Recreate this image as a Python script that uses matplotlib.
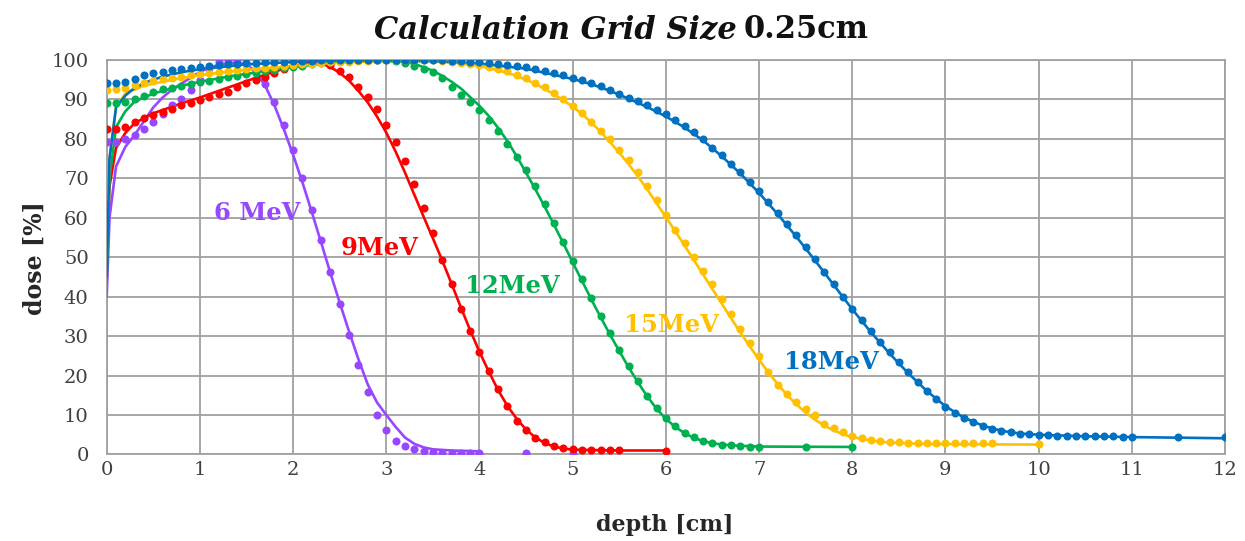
import matplotlib
matplotlib.use("Agg")
import matplotlib.pyplot as plt

# ---- measured depth-dose points (dots) ----
d6 = [0, 0.1, 0.2, 0.3, 0.4, 0.5, 0.6, 0.7, 0.8, 0.9, 1.0, 1.1, 1.2, 1.3, 1.4, 1.5, 1.6, 1.7,
      1.8, 1.9, 2.0, 2.1, 2.2, 2.3, 2.4, 2.5, 2.6, 2.7, 2.8, 2.9, 3.0, 3.1, 3.2, 3.3, 3.4, 3.5,
      3.6, 3.7, 3.8, 3.9, 4.0, 4.5, 5.0]
m6 = [79.2, 79.2, 80, 81, 82.6, 84.3, 86.4, 88.5, 90, 92.5, 95, 98, 99.5, 100, 100, 99.2, 97.5, 94,
      89.4, 83.5, 77.1, 70, 62, 54.4, 46.2, 38.2, 30.4, 22.6, 15.8, 9.9, 6.3, 3.4, 2.1, 1.3, 0.9, 0.6,
      0.4, 0.4, 0.4, 0.4, 0.4, 0.4, 0.3]

d9 = [0, 0.1, 0.2, 0.3, 0.4, 0.5, 0.6, 0.7, 0.8, 0.9, 1.0, 1.1, 1.2, 1.3, 1.4, 1.5, 1.6, 1.7,
      1.8, 1.9, 2.0, 2.1, 2.2, 2.3, 2.4, 2.5, 2.6, 2.7, 2.8, 2.9, 3.0, 3.1, 3.2, 3.3, 3.4, 3.5,
      3.6, 3.7, 3.8, 3.9, 4.0, 4.1, 4.2, 4.3, 4.4, 4.5, 4.6, 4.7, 4.8, 4.9, 5.0, 5.1, 5.2, 5.3,
      5.4, 5.5, 6.0]
m9 = [82.6, 82.6, 82.9, 84.3, 85.2, 86, 86.9, 87.5, 88.6, 89, 89.8, 90.7, 91.5, 92, 93.2, 94.1, 94.9, 95.8,
      96.8, 97.8, 98.6, 99.3, 99.8, 99.5, 98.7, 97.3, 95.7, 93.2, 90.7, 87.6, 83.5, 79.3, 74.5, 68.6, 62.5, 56.2,
      49.4, 43.3, 37, 31.2, 26.1, 21.1, 16.5, 12.3, 8.6, 6.3, 4.2, 3.1, 2.2, 1.6, 1.3, 1.1, 1.0, 1.0,
      1.0, 1.0, 0.9]

d12 = [0, 0.1, 0.2, 0.3, 0.4, 0.5, 0.6, 0.7, 0.8, 0.9, 1.0, 1.1, 1.2, 1.3, 1.4, 1.5, 1.6, 1.7,
       1.8, 1.9, 2.0, 2.1, 2.2, 2.3, 2.4, 2.5, 2.6, 2.7, 2.8, 2.9, 3.0, 3.1, 3.2, 3.3, 3.4, 3.5,
       3.6, 3.7, 3.8, 3.9, 4.0, 4.1, 4.2, 4.3, 4.4, 4.5, 4.6, 4.7, 4.8, 4.9, 5.0, 5.1, 5.2, 5.3,
       5.4, 5.5, 5.6, 5.7, 5.8, 5.9, 6.0, 6.1, 6.2, 6.3, 6.4, 6.5, 6.6, 6.7, 6.8, 6.9, 7.0, 7.5, 8.0]
m12 = [89, 89, 89.3, 90, 91, 92, 92.6, 93, 93.5, 94, 94.5, 94.8, 95.2, 95.6, 96, 96.4, 96.8, 97.2,
       97.6, 98, 98.3, 98.6, 99, 99.3, 99.6, 99.8, 100, 100, 100, 100, 100, 99.8, 99.3, 98.5, 97.8, 97,
       95.4, 93.2, 91.2, 89.3, 87.3, 84.8, 82, 78.8, 75.5, 72, 68, 63.4, 58.7, 53.8, 49, 44.4, 39.7, 35.1,
       30.8, 26.6, 22.4, 18.6, 14.8, 11.8, 9.3, 7.2, 5.5, 4.3, 3.5, 3.0, 2.5, 2.3, 2.1, 2.0, 1.9, 1.8, 1.8]

d15 = [0, 0.1, 0.2, 0.3, 0.4, 0.5, 0.6, 0.7, 0.8, 0.9, 1.0, 1.1, 1.2, 1.3, 1.4, 1.5, 1.6, 1.7,
       1.8, 1.9, 2.0, 2.1, 2.2, 2.3, 2.4, 2.5, 2.6, 2.7, 2.8, 2.9, 3.0, 3.1, 3.2, 3.3, 3.4, 3.5,
       3.6, 3.7, 3.8, 3.9, 4.0, 4.1, 4.2, 4.3, 4.4, 4.5, 4.6, 4.7, 4.8, 4.9, 5.0, 5.1, 5.2, 5.3,
       5.4, 5.5, 5.6, 5.7, 5.8, 5.9, 6.0, 6.1, 6.2, 6.3, 6.4, 6.5, 6.6, 6.7, 6.8, 6.9, 7.0, 7.1,
       7.2, 7.3, 7.4, 7.5, 7.6, 7.7, 7.8, 7.9, 8.0, 8.1, 8.2, 8.3, 8.4, 8.5, 8.6, 8.7, 8.8, 8.9,
       9.0, 9.1, 9.2, 9.3, 9.4, 9.5, 10.0]
m15 = [92.5, 92.6, 93, 93.6, 94.2, 94.7, 95.1, 95.5, 95.8, 96.1, 96.4, 96.7, 97, 97.3, 97.5, 97.7, 97.9, 98.1,
       98.3, 98.5, 98.7, 98.9, 99.1, 99.3, 99.4, 99.5, 99.6, 99.7, 99.8, 99.9, 100, 100, 100, 100, 100, 100,
       99.8, 99.6, 99.3, 99, 98.7, 98.2, 97.7, 97.1, 96.3, 95.4, 94.3, 93.2, 91.7, 90, 88.3, 86.5, 84.3, 82.1,
       79.9, 77.3, 74.6, 71.7, 68.1, 64.5, 60.7, 56.9, 53.5, 50, 46.5, 43.1, 39.3, 35.5, 31.7, 28.3, 24.9, 20.9,
       17.7, 15.4, 13.3, 11.5, 9.9, 7.8, 6.6, 5.7, 4.8, 4.2, 3.7, 3.4, 3.2, 3.1, 3.0, 3.0, 2.9, 2.9,
       2.9, 2.9, 2.9, 2.9, 2.9, 2.9, 2.6]

d18 = [0, 0.1, 0.2, 0.3, 0.4, 0.5, 0.6, 0.7, 0.8, 0.9, 1.0, 1.1, 1.2, 1.3, 1.4, 1.5, 1.6, 1.7,
       1.8, 1.9, 2.0, 2.1, 2.2, 2.3, 2.4, 2.5, 2.6, 2.7, 2.8, 2.9, 3.0, 3.1, 3.2, 3.3, 3.4, 3.5,
       3.6, 3.7, 3.8, 3.9, 4.0, 4.1, 4.2, 4.3, 4.4, 4.5, 4.6, 4.7, 4.8, 4.9, 5.0, 5.1, 5.2, 5.3,
       5.4, 5.5, 5.6, 5.7, 5.8, 5.9, 6.0, 6.1, 6.2, 6.3, 6.4, 6.5, 6.6, 6.7, 6.8, 6.9, 7.0, 7.1,
       7.2, 7.3, 7.4, 7.5, 7.6, 7.7, 7.8, 7.9, 8.0, 8.1, 8.2, 8.3, 8.4, 8.5, 8.6, 8.7, 8.8, 8.9,
       9.0, 9.1, 9.2, 9.3, 9.4, 9.5, 9.6, 9.7, 9.8, 9.9, 10.0, 10.1, 10.2, 10.3, 10.4, 10.5, 10.6, 10.7,
       10.8, 10.9, 11.0, 11.5, 12.0]
m18 = [94.2, 94.2, 94.5, 95.3, 96.1, 96.8, 97, 97.5, 97.7, 98.1, 98.3, 98.5, 98.7, 98.9, 99.1, 99.2, 99.3, 99.4,
       99.5, 99.6, 99.7, 99.8, 99.8, 99.9, 99.9, 100, 100, 100, 100, 100, 100, 100, 100, 100, 100, 100,
       99.9, 99.8, 99.7, 99.6, 99.4, 99.2, 99.0, 98.8, 98.5, 98.2, 97.8, 97.2, 96.7, 96.1, 95.5, 94.9, 94.2, 93.4,
       92.5, 91.5, 90.5, 89.6, 88.5, 87.4, 86.2, 84.8, 83.4, 81.8, 79.9, 77.8, 75.8, 73.7, 71.5, 69.2, 66.7, 64.0,
       61.2, 58.5, 55.6, 52.6, 49.5, 46.3, 43.1, 40.0, 36.8, 34.0, 31.3, 28.6, 26.0, 23.4, 20.9, 18.4, 16.2, 14.1,
       12.1, 10.5, 9.2, 8.1, 7.2, 6.5, 6.0, 5.6, 5.3, 5.1, 5.0, 4.9, 4.8, 4.8, 4.7, 4.7, 4.6, 4.6,
       4.6, 4.5, 4.5, 4.4, 4.3]

# ---- calculated depth-dose curves (lines) ----
c6_d = [0, 0.03, 0.1, 0.2, 0.3, 0.4, 0.5, 0.6, 0.7, 0.8, 0.9, 1.0, 1.1, 1.2, 1.3, 1.4, 1.5, 1.6,
        1.7, 1.8, 1.9, 2.0, 2.1, 2.2, 2.3, 2.4, 2.5, 2.6, 2.7, 2.8, 2.9, 3.0, 3.1, 3.2, 3.3, 3.4,
        3.5, 3.7, 4.0]
c6_v = [40, 60, 73, 78, 81, 84.5, 88, 90.5, 92.5, 94, 95.5, 97, 98, 98.8, 99.2, 99.3, 98.9, 97,
        93.5, 88.5, 82.5, 76, 69, 61.5, 53.8, 46, 38.5, 31.2, 24.2, 17.8, 13.2, 10, 7, 4.3, 2.7, 1.8,
        1.3, 1.0, 0.8]

c9_d = [0, 0.03, 0.1, 0.2, 0.3, 0.5, 0.8, 1.0, 1.3, 1.6, 1.9, 2.1, 2.3, 2.4, 2.5, 2.6, 2.7, 2.8,
        2.9, 3.0, 3.1, 3.2, 3.3, 3.4, 3.5, 3.6, 3.7, 3.8, 3.9, 4.0, 4.1, 4.2, 4.3, 4.4, 4.5, 4.6,
        4.7, 4.8, 4.9, 5.0, 5.5, 6.0]
c9_v = [50, 68, 77.7, 81.5, 84, 86.5, 89, 90.5, 93, 95.5, 97.8, 99, 99.2, 98.2, 96.8, 94.8, 92.2, 89.3,
        85.7, 81.6, 76.8, 71.5, 65.9, 60.3, 54.8, 49.2, 43.3, 37.3, 31.5, 26, 21, 16.3, 12.3, 9, 6.3, 4.3,
        2.9, 2.0, 1.5, 1.2, 1.0, 1.0]

c12_d = [0, 0.03, 0.1, 0.2, 0.3, 0.5, 0.8, 1.0, 1.35, 1.7, 2.0, 2.3, 2.6, 2.9, 3.2, 3.3, 3.4, 3.5,
         3.6, 3.7, 3.8, 3.9, 4.0, 4.1, 4.2, 4.3, 4.4, 4.5, 4.6, 4.7, 4.8, 4.9, 5.0, 5.1, 5.2, 5.3,
         5.4, 5.5, 5.6, 5.7, 5.8, 5.9, 6.0, 6.1, 6.2, 6.3, 6.4, 6.5, 6.7, 7.0, 8.0]
c12_v = [45, 70, 83, 87, 89.5, 91.5, 93.5, 94.5, 96, 97.2, 98.2, 99, 99.6, 99.8, 99.6, 99, 98.2, 97.3,
         96, 94.5, 92.8, 90.6, 88.4, 85.8, 82.8, 79.4, 75.6, 71.4, 67.2, 62.8, 58.2, 53.5, 48.7, 44, 39.3, 34.8,
         30.4, 26.2, 22.1, 18.3, 14.7, 11.6, 9.0, 7.0, 5.4, 4.2, 3.4, 2.8, 2.3, 2.0, 1.9]

c15_d = [0, 0.03, 0.1, 0.2, 0.4, 0.7, 1.0, 1.5, 2.0, 2.5, 3.0, 3.5, 3.8, 4.0, 4.2, 4.4, 4.6, 4.8,
         5.0, 5.1, 5.2, 5.3, 5.4, 5.5, 5.6, 5.7, 5.8, 5.9, 6.0, 6.1, 6.2, 6.3, 6.4, 6.5, 6.6, 6.7,
         6.8, 6.9, 7.0, 7.1, 7.2, 7.3, 7.4, 7.5, 7.6, 7.7, 7.8, 7.9, 8.0, 8.2, 8.4, 8.7, 9.0, 10.0]
c15_v = [50, 75, 88, 91.5, 93.5, 95, 96.2, 97.5, 98.5, 99.3, 99.8, 99.8, 99.2, 98.5, 97.4, 96, 94, 91.3,
         88.2, 86.3, 84.2, 81.8, 79.2, 76.5, 73.6, 70.5, 67.2, 63.7, 60.2, 56.6, 53, 49.3, 45.6, 41.9, 38.2, 34.5,
         30.9, 27.4, 24, 20.8, 17.8, 15.1, 12.7, 10.6, 8.8, 7.3, 6.1, 5.1, 4.4, 3.5, 3.0, 2.7, 2.6, 2.5]

c18_d = [0, 0.03, 0.1, 0.2, 0.27, 0.4, 0.6, 0.8, 1.0, 1.5, 2.0, 2.5, 3.0, 3.5, 4.0, 4.5, 5.0, 5.2,
         5.4, 5.6, 5.8, 6.0, 6.2, 6.4, 6.6, 6.8, 7.0, 7.2, 7.4, 7.6, 7.8, 8.0, 8.2, 8.4, 8.6, 8.8,
         9.0, 9.2, 9.4, 9.6, 9.8, 10.0, 10.5, 11.0, 12.0]
c18_v = [45, 75, 88, 91, 92.4, 94.2, 95.8, 96.9, 97.7, 98.9, 99.5, 99.8, 99.9, 99.7, 99.1, 97.8, 95.2, 93.9,
         92.2, 90.2, 88.1, 85.7, 82.9, 79.6, 75.6, 71.2, 66.3, 60.9, 55.2, 49.2, 43, 36.8, 31, 25.6, 20.6, 16.1,
         12.2, 9.3, 7.3, 6.0, 5.3, 5.0, 4.6, 4.4, 4.1]

energies = ["6 MeV", "9MeV", "12MeV", "15MeV", "18MeV"]
colors = ["#9747FF", "#FF0000", "#00B050", "#FFC000", "#0070C0"]
label_pos = [(1.62, 61.2), (2.93, 52.3), (4.35, 42.7), (6.06, 32.8), (7.78, 23.4)]

x_ticks = list(range(0, 13))
y_ticks = list(range(0, 101, 10))

measured = [(d6, m6), (d9, m9), (d12, m12), (d15, m15), (d18, m18)]
calculated = [(c6_d, c6_v), (c9_d, c9_v), (c12_d, c12_v), (c15_d, c15_v), (c18_d, c18_v)]

W, H = 1245, 541
fig = plt.figure(figsize=(W / 100, H / 100), dpi=100)
ax = fig.add_axes([0.0857, 0.160, 0.8983, 0.729])

grid_col = "#A0A0A0"
for (cd, cv), (md, mv), col in zip(calculated, measured, colors):
    ax.plot(cd, cv, color=col, lw=1.9, zorder=3, solid_capstyle="round")
    ax.plot(md, mv, linestyle="none", marker="o", ms=5.8, color=col,
            markeredgewidth=0, zorder=4)

for name, (lx, ly), col in zip(energies, label_pos, colors):
    ax.text(lx, ly, name, color=col, fontsize=17.5, fontweight="bold",
            family="DejaVu Serif", ha="center", va="center", zorder=5)

ax.set_xlim(0, 12)
ax.set_ylim(0, 100)
ax.set_xticks(x_ticks)
ax.set_yticks(y_ticks)
ax.grid(True, color=grid_col, lw=1.3, zorder=1)
ax.set_axisbelow(True)
for s in ax.spines.values():
    s.set_color(grid_col)
    s.set_linewidth(1.3)
ax.tick_params(axis="both", length=0, labelsize=14, labelcolor="#404040")
ax.tick_params(axis="y", pad=13)
ax.tick_params(axis="x", pad=5)
for lab in ax.get_xticklabels() + ax.get_yticklabels():
    lab.set_family("DejaVu Serif")

fig.text(665 / W, 1 - 525 / H, "depth [cm]", fontsize=16, fontweight="bold",
         family="DejaVu Serif", color="#262626", ha="center", va="center")
fig.text(35 / W, 1 - 258 / H, "dose [%]", fontsize=17, fontweight="bold",
         family="DejaVu Serif", color="#262626", ha="center", va="center", rotation=90)

fig.text(737 / W, 1 - 30 / H, "Calculation Grid Size", fontsize=22, fontweight="bold",
         fontstyle="italic", family="DejaVu Serif", ha="right", va="center", color="#111111")
fig.text(744 / W, 1 - 30 / H, "0.25cm", fontsize=22, fontweight="bold",
         family="DejaVu Serif", ha="left", va="center", color="#111111")

fig.savefig("out.png", dpi=100)
